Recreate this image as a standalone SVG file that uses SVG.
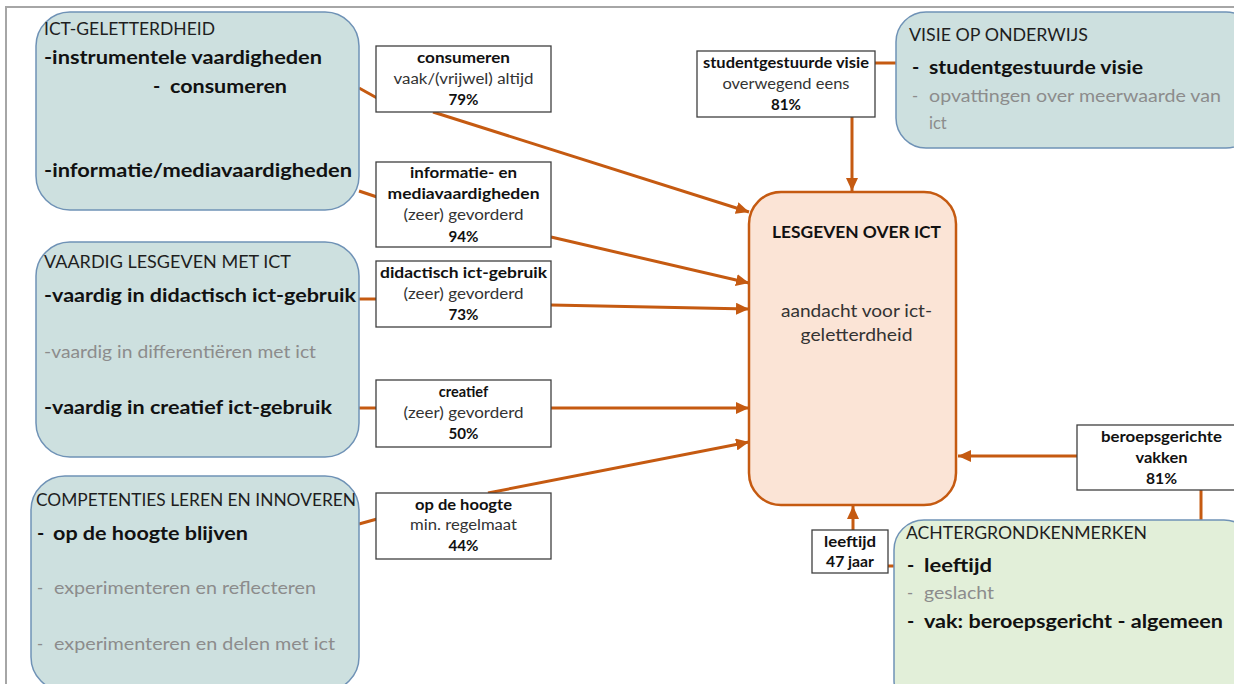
<svg xmlns="http://www.w3.org/2000/svg" width="1234" height="684" viewBox="0 0 1234 684">
<style>
text{font-family:Lato,"Open Sans","Liberation Sans",sans-serif;}
.blue{fill:#cde0df;stroke:#6f92b6;stroke-width:1.5;}
.green{fill:#e2efd9;stroke:#6f92b6;stroke-width:1.5;}
.center{fill:#fbe4d6;stroke:#c55a11;stroke-width:2.5;}
.lab{fill:#fff;stroke:#3f3f3f;stroke-width:1.3;}
.hd{font-size:17px;fill:#1e1e1e;}
.bb{font-size:19.5px;font-weight:700;fill:#111;}
.gr{font-size:16.5px;fill:#8c8c8c;}
.lb{font-size:14.5px;font-weight:700;fill:#111;text-anchor:middle;}
.lr{font-size:14.5px;fill:#333;text-anchor:middle;}
.con{stroke:#c55a11;stroke-width:3;fill:none;}
.arr{marker-end:url(#ah);}
</style>
<defs>
<marker id="ah" markerUnits="userSpaceOnUse" markerWidth="14" markerHeight="12" refX="13" refY="6" orient="auto">
<path d="M0,0 L13,6 L0,12 Z" fill="#c55a11"/>
</marker>
</defs>
<rect width="1234" height="684" fill="#fff"/>
<g id="frame">
<line x1="5" y1="7" x2="1234" y2="7" stroke="#a6a6a6" stroke-width="2"/>
<line x1="6" y1="7" x2="6" y2="684" stroke="#a6a6a6" stroke-width="2"/>
</g>

<g id="connectors">
<line class="con" x1="359" y1="88" x2="377" y2="98"/>
<line class="con" x1="359" y1="191" x2="377" y2="197"/>
<line class="con" x1="359" y1="299" x2="377" y2="299"/>
<line class="con" x1="359" y1="408" x2="377" y2="408"/>
<line class="con" x1="359" y1="524" x2="377" y2="519"/>
<line class="con" x1="875" y1="63" x2="896" y2="63"/>
<line class="con" x1="1201" y1="490" x2="1201" y2="520"/>
<line class="con" x1="888" y1="566" x2="894" y2="566"/>
<line class="con arr" x1="433" y1="112" x2="749" y2="212"/>
<line class="con arr" x1="551" y1="237" x2="749" y2="283"/>
<line class="con arr" x1="551" y1="305" x2="749" y2="309"/>
<line class="con arr" x1="551" y1="408" x2="749" y2="408"/>
<line class="con arr" x1="488" y1="493" x2="749" y2="442"/>
<line class="con arr" x1="852" y1="117" x2="852" y2="191"/>
<line class="con arr" x1="1077" y1="456" x2="958" y2="456"/>
<line class="con arr" x1="853" y1="530" x2="853" y2="506"/>
</g>

<g id="ict-geletterdheid">
<rect class="blue" x="36" y="12" width="323" height="198" rx="34"/>
<text class="hd" x="44" y="35" textLength="171" lengthAdjust="spacingAndGlyphs">ICT-GELETTERDHEID</text>
<text class="bb" x="44" y="64" textLength="278" lengthAdjust="spacingAndGlyphs">-instrumentele vaardigheden</text>
<text class="bb" x="153" y="93">-</text>
<text class="bb" x="170" y="93" textLength="117" lengthAdjust="spacingAndGlyphs">consumeren</text>
<text class="bb" x="44" y="177" textLength="308" lengthAdjust="spacingAndGlyphs">-informatie/mediavaardigheden</text>
</g>

<g id="vaardig-lesgeven">
<rect class="blue" x="36" y="242" width="323" height="215" rx="34"/>
<text class="hd" x="44" y="268" textLength="247" lengthAdjust="spacingAndGlyphs">VAARDIG LESGEVEN MET ICT</text>
<text class="bb" x="44" y="302" textLength="312" lengthAdjust="spacingAndGlyphs">-vaardig in didactisch ict-gebruik</text>
<text class="gr" x="44" y="358" textLength="272" lengthAdjust="spacingAndGlyphs">-vaardig in differentiëren met ict</text>
<text class="bb" x="44" y="414" textLength="288" lengthAdjust="spacingAndGlyphs">-vaardig in creatief ict-gebruik</text>
</g>

<g id="competenties">
<rect class="blue" x="31" y="476" width="328" height="215" rx="34"/>
<text class="hd" x="36" y="506" textLength="320" lengthAdjust="spacingAndGlyphs">COMPETENTIES LEREN EN INNOVEREN</text>
<text class="bb" x="37" y="540">-</text>
<text class="bb" x="53" y="540" textLength="195" lengthAdjust="spacingAndGlyphs">op de hoogte blijven</text>
<text class="gr" x="37" y="594">-</text>
<text class="gr" x="54" y="594" textLength="262" lengthAdjust="spacingAndGlyphs">experimenteren en reflecteren</text>
<text class="gr" x="37" y="650">-</text>
<text class="gr" x="54" y="650" textLength="281" lengthAdjust="spacingAndGlyphs">experimenteren en delen met ict</text>
</g>

<g id="label-consumeren">
<rect class="lab" x="376" y="46" width="175" height="66"/>
<text class="lb" x="463.5" y="63" textLength="93" lengthAdjust="spacingAndGlyphs">consumeren</text>
<text class="lr" x="463.5" y="84" textLength="140" lengthAdjust="spacingAndGlyphs">vaak/(vrijwel) altijd</text>
<text class="lb" x="463.5" y="105" textLength="30" lengthAdjust="spacingAndGlyphs">79%</text>
</g>

<g id="label-informatie">
<rect class="lab" x="376" y="162" width="175" height="85"/>
<text class="lb" x="463.5" y="178" textLength="107" lengthAdjust="spacingAndGlyphs">informatie- en</text>
<text class="lb" x="463.5" y="199" textLength="152" lengthAdjust="spacingAndGlyphs">mediavaardigheden</text>
<text class="lr" x="463.5" y="220" textLength="120" lengthAdjust="spacingAndGlyphs">(zeer) gevorderd</text>
<text class="lb" x="463.5" y="242" textLength="30" lengthAdjust="spacingAndGlyphs">94%</text>
</g>

<g id="label-didactisch">
<rect class="lab" x="376" y="261" width="175" height="66"/>
<text class="lb" x="463.5" y="278" textLength="167" lengthAdjust="spacingAndGlyphs">didactisch ict-gebruik</text>
<text class="lr" x="463.5" y="299" textLength="120" lengthAdjust="spacingAndGlyphs">(zeer) gevorderd</text>
<text class="lb" x="463.5" y="320" textLength="30" lengthAdjust="spacingAndGlyphs">73%</text>
</g>

<g id="label-creatief">
<rect class="lab" x="376" y="380" width="175" height="67"/>
<text class="lb" x="463.5" y="397">creatief</text>
<text class="lr" x="463.5" y="418" textLength="120" lengthAdjust="spacingAndGlyphs">(zeer) gevorderd</text>
<text class="lb" x="463.5" y="439" textLength="30" lengthAdjust="spacingAndGlyphs">50%</text>
</g>

<g id="label-hoogte">
<rect class="lab" x="376" y="493" width="175" height="66"/>
<text class="lb" x="463.5" y="510" textLength="97" lengthAdjust="spacingAndGlyphs">op de hoogte</text>
<text class="lr" x="463.5" y="530" textLength="107" lengthAdjust="spacingAndGlyphs">min. regelmaat</text>
<text class="lb" x="463.5" y="551" textLength="30" lengthAdjust="spacingAndGlyphs">44%</text>
</g>

<g id="label-studentgestuurd">
<rect class="lab" x="697" y="51" width="178" height="66"/>
<text class="lb" x="786" y="68" textLength="166" lengthAdjust="spacingAndGlyphs">studentgestuurde visie</text>
<text class="lr" x="786" y="89" textLength="127" lengthAdjust="spacingAndGlyphs">overwegend eens</text>
<text class="lb" x="786" y="110" textLength="30" lengthAdjust="spacingAndGlyphs">81%</text>
</g>

<g id="visie-onderwijs">
<rect class="blue" x="896" y="12" width="360" height="136" rx="30"/>
<text class="hd" x="909" y="41" textLength="179" lengthAdjust="spacingAndGlyphs">VISIE OP ONDERWIJS</text>
<text class="bb" x="912" y="74">-</text>
<text class="bb" x="929" y="74" textLength="214" lengthAdjust="spacingAndGlyphs">studentgestuurde visie</text>
<text class="gr" x="912" y="102">-</text>
<text class="gr" x="929" y="102" textLength="292" lengthAdjust="spacingAndGlyphs">opvattingen over meerwaarde van</text>
<text class="gr" x="929" y="129">ict</text>
</g>

<g id="lesgeven-over-ict">
<rect class="center" x="749" y="192" width="207" height="313" rx="32"/>
<text x="856.5" y="238" font-size="17" font-weight="700" fill="#111" text-anchor="middle" textLength="169" lengthAdjust="spacingAndGlyphs">LESGEVEN OVER ICT</text>
<text x="856.5" y="317" font-size="16.5" fill="#333" text-anchor="middle" textLength="151" lengthAdjust="spacingAndGlyphs">aandacht voor ict-</text>
<text x="856.5" y="341" font-size="16.5" fill="#333" text-anchor="middle" textLength="112" lengthAdjust="spacingAndGlyphs">geletterdheid</text>
</g>

<g id="label-beroeps">
<rect class="lab" x="1077" y="425" width="170" height="65"/>
<text class="lb" x="1161.5" y="442" textLength="121" lengthAdjust="spacingAndGlyphs">beroepsgerichte</text>
<text class="lb" x="1161.5" y="463" textLength="52" lengthAdjust="spacingAndGlyphs">vakken</text>
<text class="lb" x="1161.5" y="484" textLength="31" lengthAdjust="spacingAndGlyphs">81%</text>
</g>

<g id="label-leeftijd">
<rect class="lab" x="812" y="530" width="76" height="43"/>
<text class="lb" x="850" y="547" textLength="52" lengthAdjust="spacingAndGlyphs">leeftijd</text>
<text class="lb" x="850" y="567" textLength="48" lengthAdjust="spacingAndGlyphs">47 jaar</text>
</g>

<g id="achtergrondkenmerken">
<rect class="green" x="894" y="520" width="360" height="190" rx="30"/>
<text class="hd" x="906" y="539" textLength="241" lengthAdjust="spacingAndGlyphs">ACHTERGRONDKENMERKEN</text>
<text class="bb" x="907" y="572">-</text>
<text class="bb" x="924" y="572" textLength="68" lengthAdjust="spacingAndGlyphs">leeftijd</text>
<text class="gr" x="907" y="599">-</text>
<text class="gr" x="924" y="599" textLength="70" lengthAdjust="spacingAndGlyphs">geslacht</text>
<text class="bb" x="907" y="628">-</text>
<text class="bb" x="924" y="628" textLength="299" lengthAdjust="spacingAndGlyphs">vak: beroepsgericht - algemeen</text>
</g>
</svg>
